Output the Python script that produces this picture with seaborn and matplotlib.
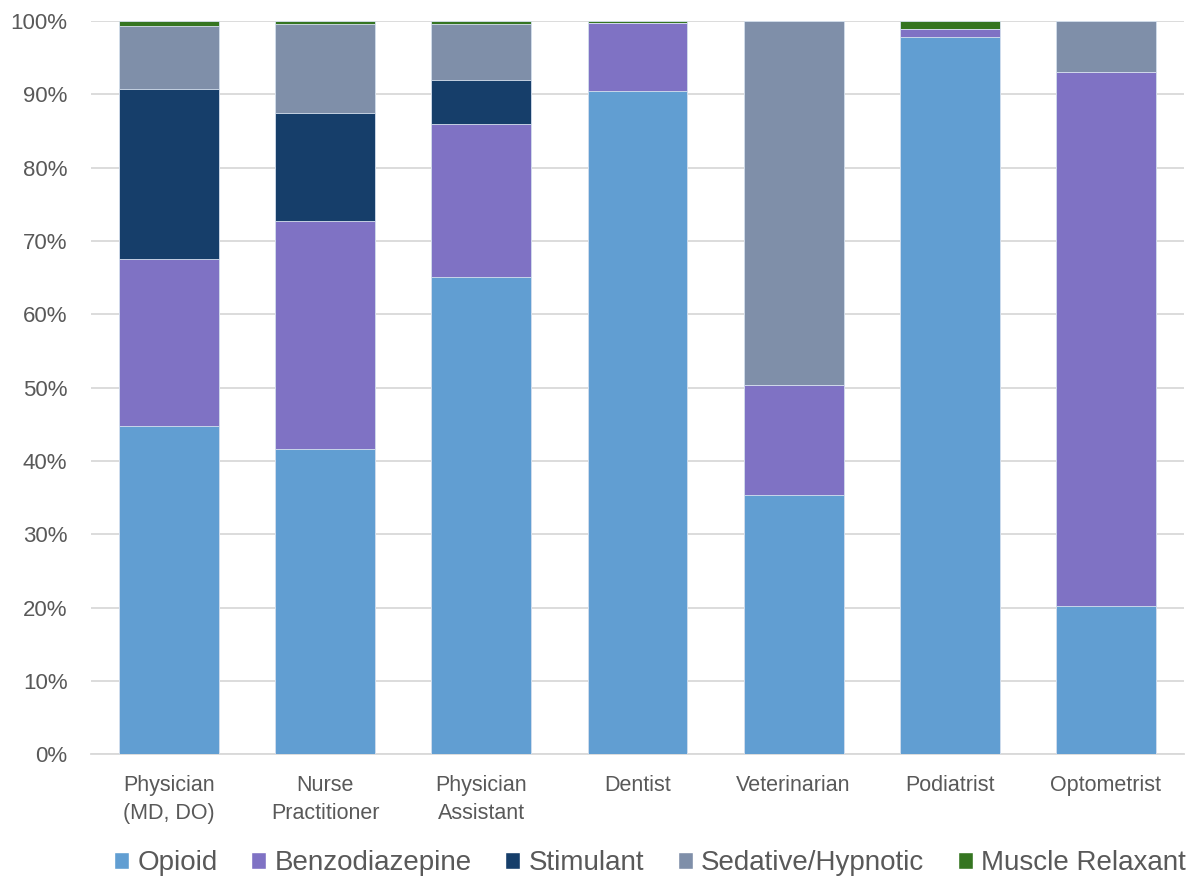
import matplotlib
matplotlib.use("Agg")
import matplotlib.pyplot as plt
import seaborn as sns
import numpy as np
import pandas as pd
from matplotlib.patches import Patch
from matplotlib.ticker import PercentFormatter

categories = ["Physician\n(MD, DO)", "Nurse\nPractitioner", "Physician\nAssistant",
              "Dentist", "Veterinarian", "Podiatrist", "Optometrist"]
series_names = ["Opioid", "Benzodiazepine", "Stimulant", "Sedative/Hypnotic", "Muscle Relaxant"]
opioid = [44.7, 41.6, 65.1, 90.5, 35.3, 97.9, 20.2]
benzodiazepine = [22.8, 31.2, 20.8, 9.2, 15.0, 1.0, 72.8]
stimulant = [23.2, 14.6, 6.1, 0.0, 0.0, 0.0, 0.0]
sedative = [8.7, 12.2, 7.6, 0.0, 49.7, 0.0, 7.0]
muscle = [0.6, 0.4, 0.4, 0.3, 0.0, 1.1, 0.0]
colors = ["#619ED2", "#7F72C4", "#163E6A", "#7F8FA9", "#357521"]

sns.set_theme(style="white")
plt.rcParams['font.family'] = ['Liberation Sans', 'DejaVu Sans']

fig = plt.figure(figsize=(11.89, 8.8), dpi=100)
ax = fig.add_axes([91 / 1189, 0.143, (1184 - 91) / 1189, 0.833])

series = [opioid, benzodiazepine, stimulant, sedative, muscle]
cum = np.cumsum(np.array(series), axis=0)
# draw from top (largest cumulative) down so lower segments overlay
for i in range(len(series) - 1, -1, -1):
    df = pd.DataFrame({"cat": categories, "val": cum[i]})
    sns.barplot(data=df, x="cat", y="val", color=colors[i], ax=ax, width=0.64,
                saturation=1, edgecolor="#d8e2ef", linewidth=0.6, zorder=3)

ax.set_ylim(0, 100)
ax.set_xlim(-0.5, 6.5)
ax.set_yticks(np.arange(0, 101, 10))
ax.yaxis.set_major_formatter(PercentFormatter(decimals=0))
ax.set_xlabel("")
ax.set_ylabel("")
ax.grid(axis="y", color="#D9D9D9", linewidth=1.3, zorder=0)
ax.set_axisbelow(True)
for s in ["top", "right", "left"]:
    ax.spines[s].set_visible(False)
ax.spines["bottom"].set_color("#D9D9D9")
ax.spines["bottom"].set_linewidth(1.3)
ax.tick_params(axis="both", length=0, labelcolor="#595959")
ax.tick_params(axis="y", pad=17, labelsize=16)
ax.tick_params(axis="x", pad=15, labelsize=15.5)
for lbl in ax.get_xticklabels():
    lbl.set_linespacing(1.45)

handles = [Patch(facecolor=c, label=n) for c, n in zip(colors, series_names)]
fig.legend(handles=handles, loc="center", bbox_to_anchor=(650 / 1189, 0.019), ncol=5,
           frameon=False, fontsize=20, labelcolor="#595959", handlelength=0.55,
           handleheight=0.55, handletextpad=0.3, columnspacing=1.2)

fig.savefig("out.png", dpi=100)
